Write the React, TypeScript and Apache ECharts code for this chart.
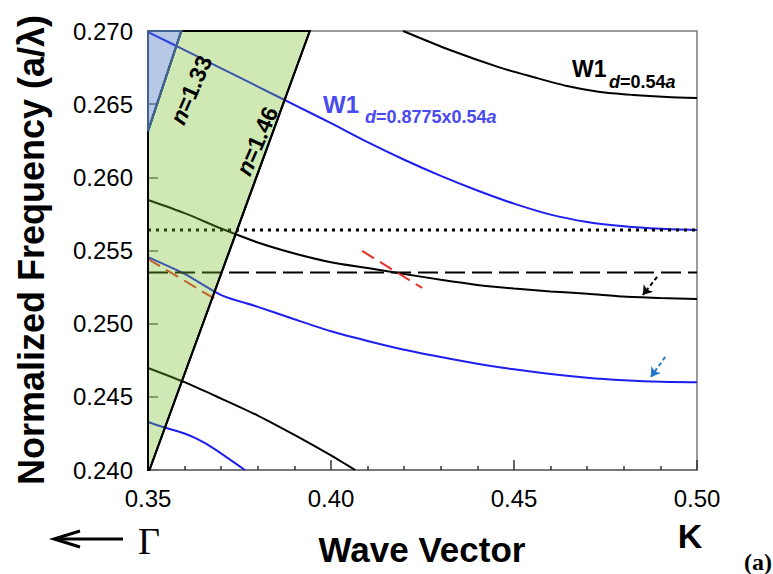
import React, { useEffect, useRef } from "react";
import * as echarts from "echarts";

// ---- Data ----
const xTickLabels = ["0.35", "0.40", "0.45", "0.50"];
const yTickLabels = ["0.240", "0.245", "0.250", "0.255", "0.260", "0.265", "0.270"];

// W1, d = 0.54a (black) bands
const b1K = [0.4197, 0.4325, 0.4462, 0.4552, 0.4645, 0.4735, 0.4825, 0.4918, 0.5];
const b1F = [0.27, 0.2687, 0.2675, 0.26686, 0.26624, 0.26583, 0.26563, 0.26549, 0.26542];

const b2K = [0.35, 0.36, 0.37, 0.38, 0.39, 0.4, 0.41, 0.42, 0.43, 0.44, 0.45, 0.46, 0.47, 0.48, 0.49, 0.5];
const b2F = [0.25845, 0.25755, 0.2565, 0.25555, 0.2548, 0.2542, 0.2538, 0.2534, 0.253, 0.25265, 0.2524, 0.2522, 0.25205, 0.25185, 0.25175, 0.25168];

const b3K = [0.35, 0.36, 0.37, 0.38, 0.39, 0.4, 0.4066];
const b3F = [0.24697, 0.246, 0.24488, 0.24372, 0.2424, 0.241, 0.24];

// W1, d = 0.8775 x 0.54a (blue) bands
const t1K = [0.35, 0.36, 0.37, 0.38, 0.39, 0.4, 0.41, 0.42, 0.43, 0.44, 0.45, 0.46, 0.47, 0.48, 0.49, 0.5];
const t1F = [0.26993, 0.2687, 0.26745, 0.2662, 0.26495, 0.2637, 0.2624, 0.2612, 0.2601, 0.2591, 0.2582, 0.25745, 0.25695, 0.25665, 0.25648, 0.2564];

const t2K = [0.35, 0.36, 0.37, 0.38, 0.39, 0.4, 0.41, 0.42, 0.43, 0.44, 0.45, 0.46, 0.47, 0.48, 0.49, 0.5];
const t2F = [0.25455, 0.2534, 0.25195, 0.25115, 0.2503, 0.24948, 0.24882, 0.24822, 0.24772, 0.24726, 0.24688, 0.24656, 0.24631, 0.24614, 0.24603, 0.246];

const t3K = [0.35, 0.3541, 0.3596, 0.3634, 0.3678, 0.3765];
const t3F = [0.24328, 0.24294, 0.24253, 0.24212, 0.2415, 0.24];

// reference frequencies (dotted / dashed)
const dottedF = 0.2564;
const dashedF = 0.2535;
const refK = [0.35, 0.5];

// light lines / cones
const line146 = [[0.3504, 0.24], [0.3942, 0.27]];
const line133 = [[0.35, 0.26316], [0.3591, 0.27]];
const greenCone = [[0.35, 0.24], [0.3504, 0.24], [0.3942, 0.27], [0.3591, 0.27], [0.35, 0.26316]];
const blueCone = [[0.35, 0.26316], [0.3591, 0.27], [0.35, 0.27]];

// red dashed tangent markers
const redA = [[0.4085, 0.25497], [0.4249, 0.25244]];
const redB = [[0.35, 0.25442], [0.3697, 0.25148]];

// small arrows
const arrowBlack = [[0.4891, 0.25319], [0.4852, 0.25196]];
const arrowBlue = [[0.4913, 0.24772], [0.4874, 0.24636]];

const SANS = "'Liberation Sans', Arial, sans-serif";
const SERIF = "'Liberation Serif', 'Times New Roman', serif";
const BLUE = "#1e1ef0";
const BLUE_TEXT = "#4a4af2";

const zip = (k: number[], f: number[]) => k.map((v, i) => [v, f[i]]);

function curve(k: number[], f: number[], color: string) {
  return {
    type: "line",
    data: zip(k, f),
    showSymbol: false,
    smooth: 0.25,
    lineStyle: { color, width: 2 },
    z: 2,
  };
}

function straight(pts: number[][], color: string, type: any, width: number, z = 2) {
  return {
    type: "line",
    data: pts,
    showSymbol: false,
    lineStyle: { color, width, type, cap: "butt" },
    z,
  };
}

function polygonSeries(pts: number[][], style: any, z: number) {
  return {
    type: "custom",
    data: [pts[0]],
    z,
    silent: true,
    renderItem: (_p: any, api: any) => ({
      type: "polygon",
      shape: { points: pts.map((p) => api.coord(p)) },
      style,
    }),
  };
}

function richLabel(text: string, x: number, y: number, size: number, color: string, rotation = 0, align = "left") {
  return {
    type: "text",
    x,
    y,
    rotation,
    z: 20,
    style: {
      text,
      fontSize: size,
      fontWeight: "bold",
      fontFamily: SANS,
      fill: color,
      align,
      verticalAlign: "middle",
      rich: {
        i: { fontStyle: "italic", fontWeight: "bold", fontSize: size, fontFamily: SANS, fill: color },
        r: { fontWeight: "bold", fontSize: size, fontFamily: SANS, fill: color },
      },
    },
  };
}

function plainText(text: string, x: number, y: number, size: number, family: string, weight = "bold", rotation = 0, color = "#000", align = "center") {
  return {
    type: "text",
    x,
    y,
    rotation,
    z: 20,
    style: {
      text,
      fontSize: size,
      fontWeight: weight,
      fontFamily: family,
      fill: color,
      align,
      verticalAlign: "middle",
    },
  };
}

export default function App() {
  const ref = useRef<HTMLDivElement>(null);
  useEffect(() => {
    document.body.style.margin = "0";
    if (!ref.current) return;
    const chart = echarts.init(ref.current, undefined, { renderer: "svg" });
    const option: any = {
      animation: false,
      backgroundColor: "#ffffff",
      grid: {
        left: 148,
        top: 31,
        width: 549,
        height: 439,
        show: true,
        borderColor: "#7a7a7a",
        borderWidth: 1.5,
      },
      xAxis: {
        type: "value",
        min: 0.35,
        max: 0.5,
        interval: 0.05,
        axisLine: { show: true, lineStyle: { color: "#6e6e6e", width: 1.5 } },
        axisTick: { show: true, inside: true, length: 10, lineStyle: { color: "#333", width: 1.5 } },
        minorTick: { show: true, splitNumber: 5, length: 4, lineStyle: { color: "#333", width: 1.5 } },
        splitLine: { show: false },
        axisLabel: {
          fontSize: 24,
          color: "#000",
          margin: 16,
          fontFamily: SANS,
          formatter: (v: number) => xTickLabels.find((t) => Math.abs(parseFloat(t) - v) < 1e-6) || "",
        },
      },
      yAxis: {
        type: "value",
        min: 0.24,
        max: 0.27,
        interval: 0.005,
        axisLine: { show: true, lineStyle: { color: "#000", width: 2 } },
        axisTick: { show: true, inside: true, length: 10, lineStyle: { color: "#666", width: 1.5 } },
        splitLine: { show: false },
        axisLabel: {
          fontSize: 24,
          color: "#000",
          margin: 15,
          fontFamily: SANS,
          formatter: (v: number) => yTickLabels.find((t) => Math.abs(parseFloat(t) - v) < 1e-6) || "",
        },
      },
      series: [
        curve(b1K, b1F, "#000"),
        curve(b2K, b2F, "#000"),
        curve(b3K, b3F, "#000"),
        curve(t1K, t1F, BLUE),
        curve(t2K, t2F, BLUE),
        curve(t3K, t3F, BLUE),
        straight(refK.map((k) => [k, dottedF]), "#000", [3, 5], 3),
        straight(refK.map((k) => [k, dashedF]), "#000", [20, 7], 2),
        straight(redA, "#e8302a", [14, 7], 2),
        straight(redB, "#e8302a", [14, 7], 2),
        polygonSeries(greenCone, { fill: "rgba(117,189,40,0.35)", stroke: "#000", lineWidth: 2 }, 3),
        polygonSeries(blueCone, { fill: "rgba(72,117,192,0.4)", stroke: "#41638f", lineWidth: 2 }, 3),
        straight(line146, "#000", "solid", 2, 4),
        straight(line133, "#41638f", "solid", 2, 4),
        {
          type: "lines",
          coordinateSystem: "cartesian2d",
          symbol: ["none", "arrow"],
          symbolSize: 9,
          z: 5,
          data: [
            { coords: arrowBlack, lineStyle: { color: "#000", width: 2, type: [4, 3], opacity: 1 } },
            { coords: arrowBlue, lineStyle: { color: "#1f78c8", width: 2, type: [4, 3], opacity: 1 } },
          ],
          lineStyle: { opacity: 1 },
        },
      ],
      graphic: [
        plainText("Normalized Frequency (a/λ)", 31, 250, 36, SANS, "bold", Math.PI / 2),
        plainText("Wave Vector", 422, 549, 35, SANS),
        plainText("K", 690, 536, 34, SANS),
        plainText("(a)", 758, 562, 24, SERIF),
        plainText("Γ", 149, 541, 38, SERIF, "normal"),
        {
          type: "line",
          shape: { x1: 55, y1: 539, x2: 123, y2: 539 },
          style: { stroke: "#000", lineWidth: 3 },
        },
        {
          type: "polyline",
          shape: { points: [[80, 531], [54, 539], [80, 547]] },
          style: { stroke: "#000", lineWidth: 3, fill: null },
        },
        richLabel("{i|n}{r|=1.33}", 191, 90, 23, "#000", 1.16, "center"),
        richLabel("{i|n}{r|=1.46}", 257, 141, 23, "#000", 1.16, "center"),
        plainText("W1", 572, 69, 23, SANS, "bold", 0, "#000", "left"),
        richLabel("{i|d}{r|=0.54}{i|a}", 609, 82, 18, "#000"),
        plainText("W1", 323, 104, 24, SANS, "bold", 0, BLUE_TEXT, "left"),
        richLabel("{i|d}{r|=0.8775x0.54}{i|a}", 365, 117, 18, BLUE_TEXT),
      ],
    };
    chart.setOption(option);
    return () => chart.dispose();
  }, []);
  return <div ref={ref} style={{ width: 773, height: 574 }} />;
}
